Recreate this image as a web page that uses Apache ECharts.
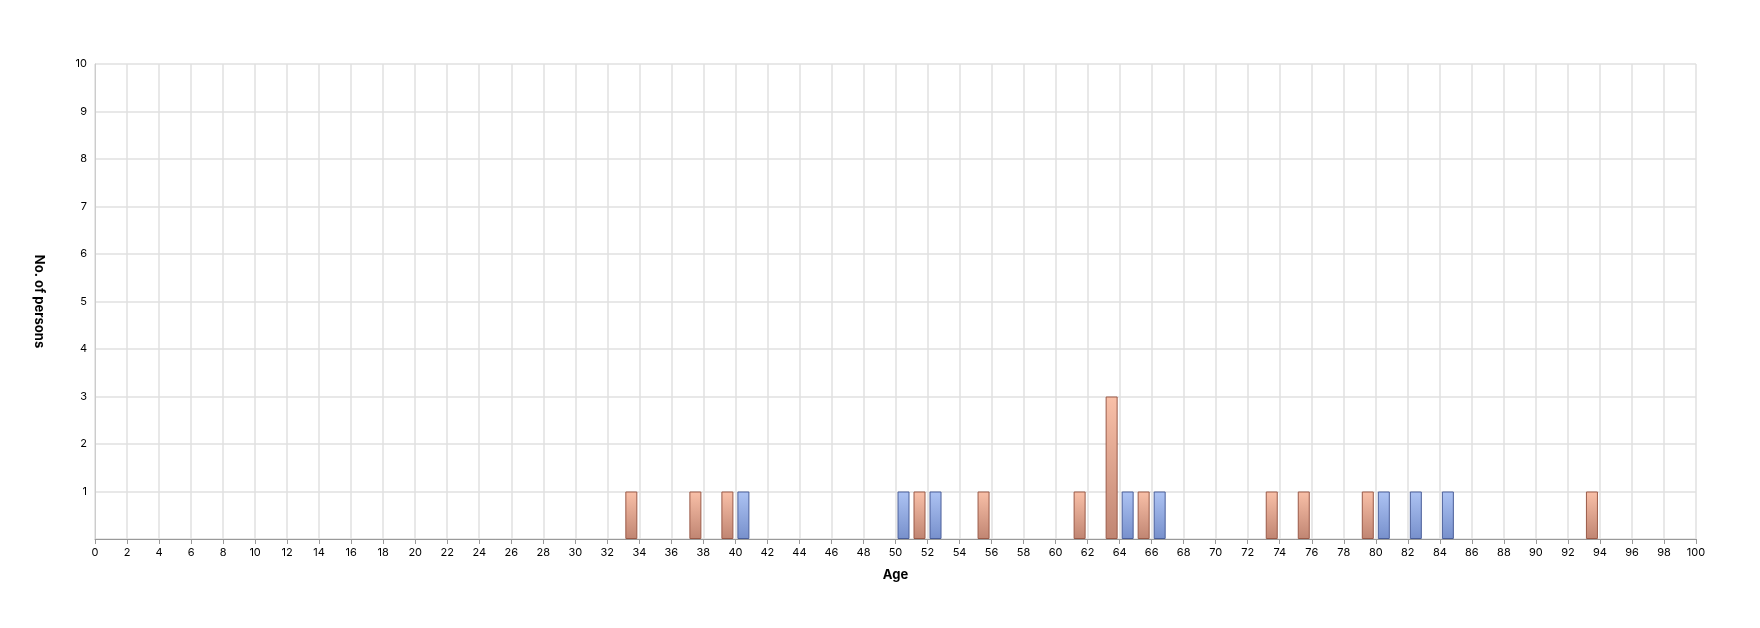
<!DOCTYPE html>
<html><head><meta charset="utf-8">
<script src="https://cdn.jsdelivr.net/npm/echarts@6/dist/echarts.min.js"></script>
<style>html,body{margin:0;padding:0;background:#fff}#c{width:1760px;height:628px}</style>
</head><body><div id="c"></div>
<script>
const orangeAges = [33, 37, 39, 51, 55, 61, 63, 65, 73, 75, 79, 93];
const orangeCounts = [1, 1, 1, 1, 1, 1, 3, 1, 1, 1, 1, 1];
const blueAges = [40, 50, 52, 64, 66, 80, 82, 84];
const blueCounts = [1, 1, 1, 1, 1, 1, 1, 1];

function grad(top, bottom) {
  return new echarts.graphic.LinearGradient(0, 0, 0, 1, [{offset: 0, color: top}, {offset: 1, color: bottom}]);
}
const chart = echarts.init(document.getElementById('c'));
chart.setOption({
  animation: false,
  grid: {left: 95, right: 64, top: 64, bottom: 89},
  xAxis: {
    type: 'value', min: 0, max: 100, interval: 2,
    name: 'Age', nameLocation: 'middle', nameGap: 30,
    nameTextStyle: {fontWeight: 'bold', fontSize: 13, color: '#000', fontFamily: 'Inter'},
    axisLine: {lineStyle: {color: '#999'}}, axisTick: {show: true, lineStyle: {color: '#999'}},
    axisLabel: {color: '#000', fontSize: 11, fontFamily: 'Inter'},
    splitLine: {show: true, lineStyle: {color: '#e0e0e0', width: 1.5}}
  },
  yAxis: {
    type: 'value', min: 0, max: 10, interval: 1,
    name: 'No. of persons', nameLocation: 'middle', nameGap: 50, nameRotate: -90,
    nameTextStyle: {fontWeight: 'bold', fontSize: 13, color: '#000', fontFamily: 'Inter'},
    axisLine: {show: true, lineStyle: {color: '#ccc'}}, axisTick: {show: false},
    axisLabel: {color: '#000', fontSize: 11, fontFamily: 'Inter', formatter: v => v === 0 ? '' : v},
    splitLine: {show: true, lineStyle: {color: '#e0e0e0', width: 1.5}}
  },
  series: [
    {type: 'bar', barWidth: 12, barGap: '-100%',
     data: orangeAges.map((a, i) => [a + 0.5, orangeCounts[i]]),
     itemStyle: {color: grad('#f9c0a8', '#c08572'), borderColor: '#9a5a48', borderWidth: 1}},
    {type: 'bar', barWidth: 12, barGap: '-100%',
     data: blueAges.map((a, i) => [a + 0.5, blueCounts[i]]),
     itemStyle: {color: grad('#adc3f3', '#7790cc'), borderColor: '#4a5e99', borderWidth: 1}}
  ]
});
</script></body></html>
